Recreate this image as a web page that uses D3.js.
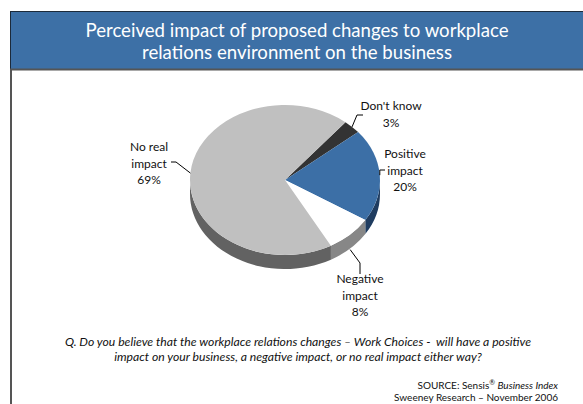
<!DOCTYPE html>
<html>
<head>
<meta charset="utf-8">
<script src="https://cdn.jsdelivr.net/npm/d3@7"></script>
<style>
  html, body { margin: 0; padding: 0; background: #fff; }
  svg { display: block; }
  text { font-family: Lato, "Open Sans", sans-serif; }
</style>
</head>
<body>
<svg id="chart" width="583" height="404"></svg>
<script>
// Survey responses (% of businesses)
const categories = ["Don't know", "Positive impact", "Negative impact", "No real impact"];
const values = [3, 20, 8, 69];
const labelLines = [["Don't know", "3%"], ["Positive", "impact", "20%"], ["Negative", "impact", "8%"], ["No real", "impact", "69%"]];
const topColors = ["#333333", "#3c6fa6", "#ffffff", "#c0c0c0"];
const sideColors = ["#1e1e1e", "#1f3c60", "#878787", "#626262"];
const titleLines = ["Perceived impact of proposed changes to workplace", "relations environment on the business"];
const questionLines = [
  "Q. Do you believe that the workplace relations changes \u2013 Work Choices -  will have a positive",
  "impact on your business, a negative impact, or no real impact either way?"
];

const svg = d3.select("#chart");

// Header band with title
svg.append("rect").attr("x", 10.5).attr("y", 11.5).attr("width", 600).attr("height", 58)
  .attr("fill", "#3d70a6").attr("stroke", "#1c2a3a").attr("stroke-width", 1);
svg.append("line").attr("x1", 10).attr("x2", 583).attr("y1", 69.5).attr("y2", 69.5)
  .attr("stroke", "#555").attr("stroke-width", 2);
svg.append("line").attr("x1", 11).attr("x2", 11).attr("y1", 69).attr("y2", 404)
  .attr("stroke", "#555").attr("stroke-width", 2);

svg.append("g").selectAll("text").data(titleLines).join("text")
  .attr("x", 297).attr("y", (d, i) => 37 + i * 22)
  .attr("text-anchor", "middle").attr("fill", "#fff")
  .attr("font-size", 18.6).text(d => d);

// 3D pie geometry
const cx = 285, cy = 180, rx = 95, ry = 75, depth = 14;
const startAngle = 39.5 * Math.PI / 180;
const pie = d3.pie().sort(null).value(d => d)
  .startAngle(startAngle).endAngle(startAngle + 2 * Math.PI);
const arcs = pie(values);

// point on the ellipse rim at pie angle t (clockwise from 12 o'clock)
const pt = (t, dy = 0) => [cx + rx * Math.sin(t), cy - ry * Math.cos(t) + dy];

// outer walls: only the front half (pi/2 .. 3pi/2) faces the viewer
const wallPath = (a0, a1) => {
  const segs = [];
  [[Math.PI / 2, 3 * Math.PI / 2], [Math.PI / 2 + 2 * Math.PI, 3 * Math.PI / 2 + 2 * Math.PI]].forEach(([lo, hi]) => {
    const s = Math.max(a0, lo), e = Math.min(a1, hi);
    if (s < e) {
      const p0 = pt(s), p1 = pt(e), p2 = pt(e, depth), p3 = pt(s, depth);
      segs.push(`M${p0}A${rx},${ry} 0 0 1 ${p1}L${p2}A${rx},${ry} 0 0 0 ${p3}Z`);
    }
  });
  return segs.join("");
};

const topPath = (a0, a1) => {
  const p0 = pt(a0), p1 = pt(a1);
  const large = (a1 - a0) > Math.PI ? 1 : 0;
  return `M${cx},${cy}L${p0}A${rx},${ry} 0 ${large} 1 ${p1}Z`;
};

const pieG = svg.append("g");
pieG.selectAll("path.wall").data(arcs).join("path").attr("class", "wall")
  .attr("d", d => wallPath(d.startAngle, d.endAngle))
  .attr("fill", (d, i) => sideColors[i]);
pieG.selectAll("path.top").data(arcs).join("path").attr("class", "top")
  .attr("d", d => topPath(d.startAngle, d.endAngle))
  .attr("fill", (d, i) => topColors[i]);

// Labels and leader lines
const mid = d => (d.startAngle + d.endAngle) / 2;
const labelLayout = [
  { x: 391, y: 110, leader: d => { const p = pt(mid(d)); return [p, [357, 115], [363, 115]]; } },
  { x: 405, y: 158, leader: d => { const p = pt(mid(d)); return [p, [p[0], 170], [385, 170]]; } },
  { x: 360, y: 283, leader: d => { const p = pt(mid(d), depth + 1); return [p, [360, 263], [360, 274]]; } },
  { x: 149, y: 151, leader: d => { const p = pt(mid(d)); return [p, [176, 162], [171, 162]]; } }
];

const lineGen = d3.line();
svg.append("g").selectAll("path").data(arcs).join("path")
  .attr("d", (d, i) => lineGen(labelLayout[i].leader(d)))
  .attr("fill", "none").attr("stroke", "#000").attr("stroke-width", 1);

const lab = svg.append("g").selectAll("text").data(arcs).join("text")
  .attr("text-anchor", "middle").attr("font-size", 12).attr("fill", "#111");
lab.each(function (d, i) {
  const L = labelLayout[i];
  d3.select(this).selectAll("tspan").data(labelLines[i]).join("tspan")
    .attr("x", L.x).attr("y", (s, j) => L.y + j * 16.5).text(s => s);
});

// Question text
svg.append("g").selectAll("text").data(questionLines).join("text")
  .attr("x", 298).attr("y", (d, i) => 346 + i * 15)
  .attr("text-anchor", "middle").attr("font-style", "italic")
  .attr("font-size", 12.2).attr("fill", "#111").style("white-space", "pre").text(d => d);

// Source
const src = svg.append("text").attr("x", 558).attr("y", 389).attr("text-anchor", "end")
  .attr("font-size", 10).attr("fill", "#111");
src.append("tspan").text("SOURCE: Sensis");
src.append("tspan").attr("dy", -4).attr("font-size", 7).text("\u00AE");
src.append("tspan").attr("dy", 4).attr("font-style", "italic").text(" Business Index");
svg.append("text").attr("x", 558).attr("y", 401).attr("text-anchor", "end")
  .attr("font-size", 10).attr("fill", "#111").text("Sweeney Research \u2013 November 2006");
</script>
</body>
</html>
